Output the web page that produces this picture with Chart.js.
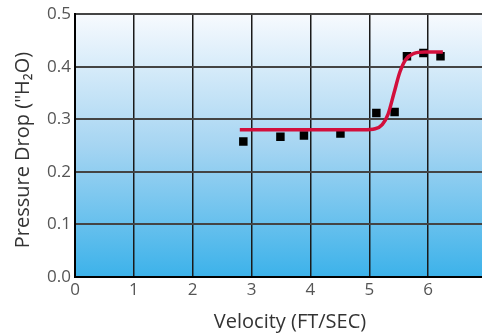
<!DOCTYPE html>
<html>
<head>
<meta charset="utf-8">
<script src="https://cdn.jsdelivr.net/npm/chart.js@4"></script>
<style>
  html, body { margin: 0; padding: 0; background: #fff; overflow: hidden; }
  #wrap { width: 500px; height: 335px; }
</style>
</head>
<body>
<div id="wrap"><canvas id="chart" width="500" height="335"></canvas></div>
<script>
// measured points
const velocity = [2.86, 3.49, 3.89, 4.51, 5.12, 5.43, 5.64, 5.92, 6.21];
const pressure = [0.258, 0.267, 0.269, 0.273, 0.312, 0.314, 0.420, 0.426, 0.420];

// fitted curve
const curveX = [2.8, 3.5, 4.0, 4.5, 4.9, 5.1, 5.22, 5.32, 5.42, 5.52, 5.62, 5.75, 5.95, 6.25];
const curveY = [0.280, 0.280, 0.280, 0.280, 0.280, 0.282, 0.290, 0.310, 0.350, 0.390, 0.414, 0.425, 0.428, 0.428];

const xTicks = [0, 1, 2, 3, 4, 5, 6, 7];
const yTicks = [0.0, 0.1, 0.2, 0.3, 0.4, 0.5];

const xTitle = "Velocity (FT/SEC)";
const yTitle = "Pressure Drop (\"H\u2082O)";

const bgPlugin = {
    id: "bg",
    beforeDraw(chart) {
        const { ctx, chartArea: a } = chart;
        const g = ctx.createLinearGradient(0, a.top, 0, a.bottom);
        g.addColorStop(0, "#f7fafe");
        g.addColorStop(0.5, "#a6d5f2");
        g.addColorStop(1, "#3cb2ea");
        ctx.save();
        ctx.fillStyle = g;
        ctx.fillRect(a.left, a.top, a.right - a.left, a.bottom - a.top);
        ctx.restore();
    },
    afterDraw(chart) {
        // axis titles are placed by hand, the original is not centred on the plot
        const ctx = chart.ctx;
        ctx.save();
        ctx.fillStyle = "#333";
        ctx.font = "20px 'Open Sans'";
        ctx.textAlign = "center";
        ctx.textBaseline = "middle";
        ctx.fillText(xTitle, 290, 322);
        ctx.translate(23, 150);
        ctx.rotate(-Math.PI / 2);
        ctx.fillText(yTitle, 0, 0);
        ctx.restore();
    }
};

const tickFont = { family: "Open Sans", size: 17 };

new Chart(document.getElementById("chart"), {
    type: "scatter",
    data: {
        datasets: [
            {
                type: "line",
                data: curveX.map((x, i) => ({ x, y: curveY[i] })),
                borderColor: "#d20f3c",
                borderWidth: 3.5,
                pointRadius: 0,
                cubicInterpolationMode: "monotone",
                fill: false
            },
            {
                data: velocity.map((x, i) => ({ x, y: pressure[i] })),
                pointStyle: "rect",
                pointRadius: 6,
                backgroundColor: "#000",
                borderWidth: 0
            }
        ]
    },
    options: {
        responsive: false,
        animation: false,
        layout: { padding: { top: 13, right: 13, left: 0, bottom: 0 } },
        plugins: { legend: { display: false }, tooltip: { enabled: false } },
        scales: {
            x: {
                type: "linear",
                min: 0,
                max: 7,
                afterBuildTicks: s => { s.ticks = xTicks.map(v => ({ value: v })); },
                ticks: { color: "#555", font: tickFont, padding: 3 },
                grid: { color: "#1a1a1a", lineWidth: 1.5, drawTicks: false },
                border: { color: "#000", width: 2 },
                afterFit: s => { s.height = 58; }
            },
            y: {
                min: 0,
                max: 0.5,
                afterBuildTicks: s => { s.ticks = yTicks.map(v => ({ value: v })); },
                ticks: { color: "#555", font: tickFont, padding: 4, callback: v => v.toFixed(1) },
                grid: { color: "#444", lineWidth: 2, drawTicks: false },
                border: { color: "#000", width: 2 },
                afterFit: s => { s.width = 75; }
            }
        }
    },
    plugins: [bgPlugin]
});
</script>
</body>
</html>
